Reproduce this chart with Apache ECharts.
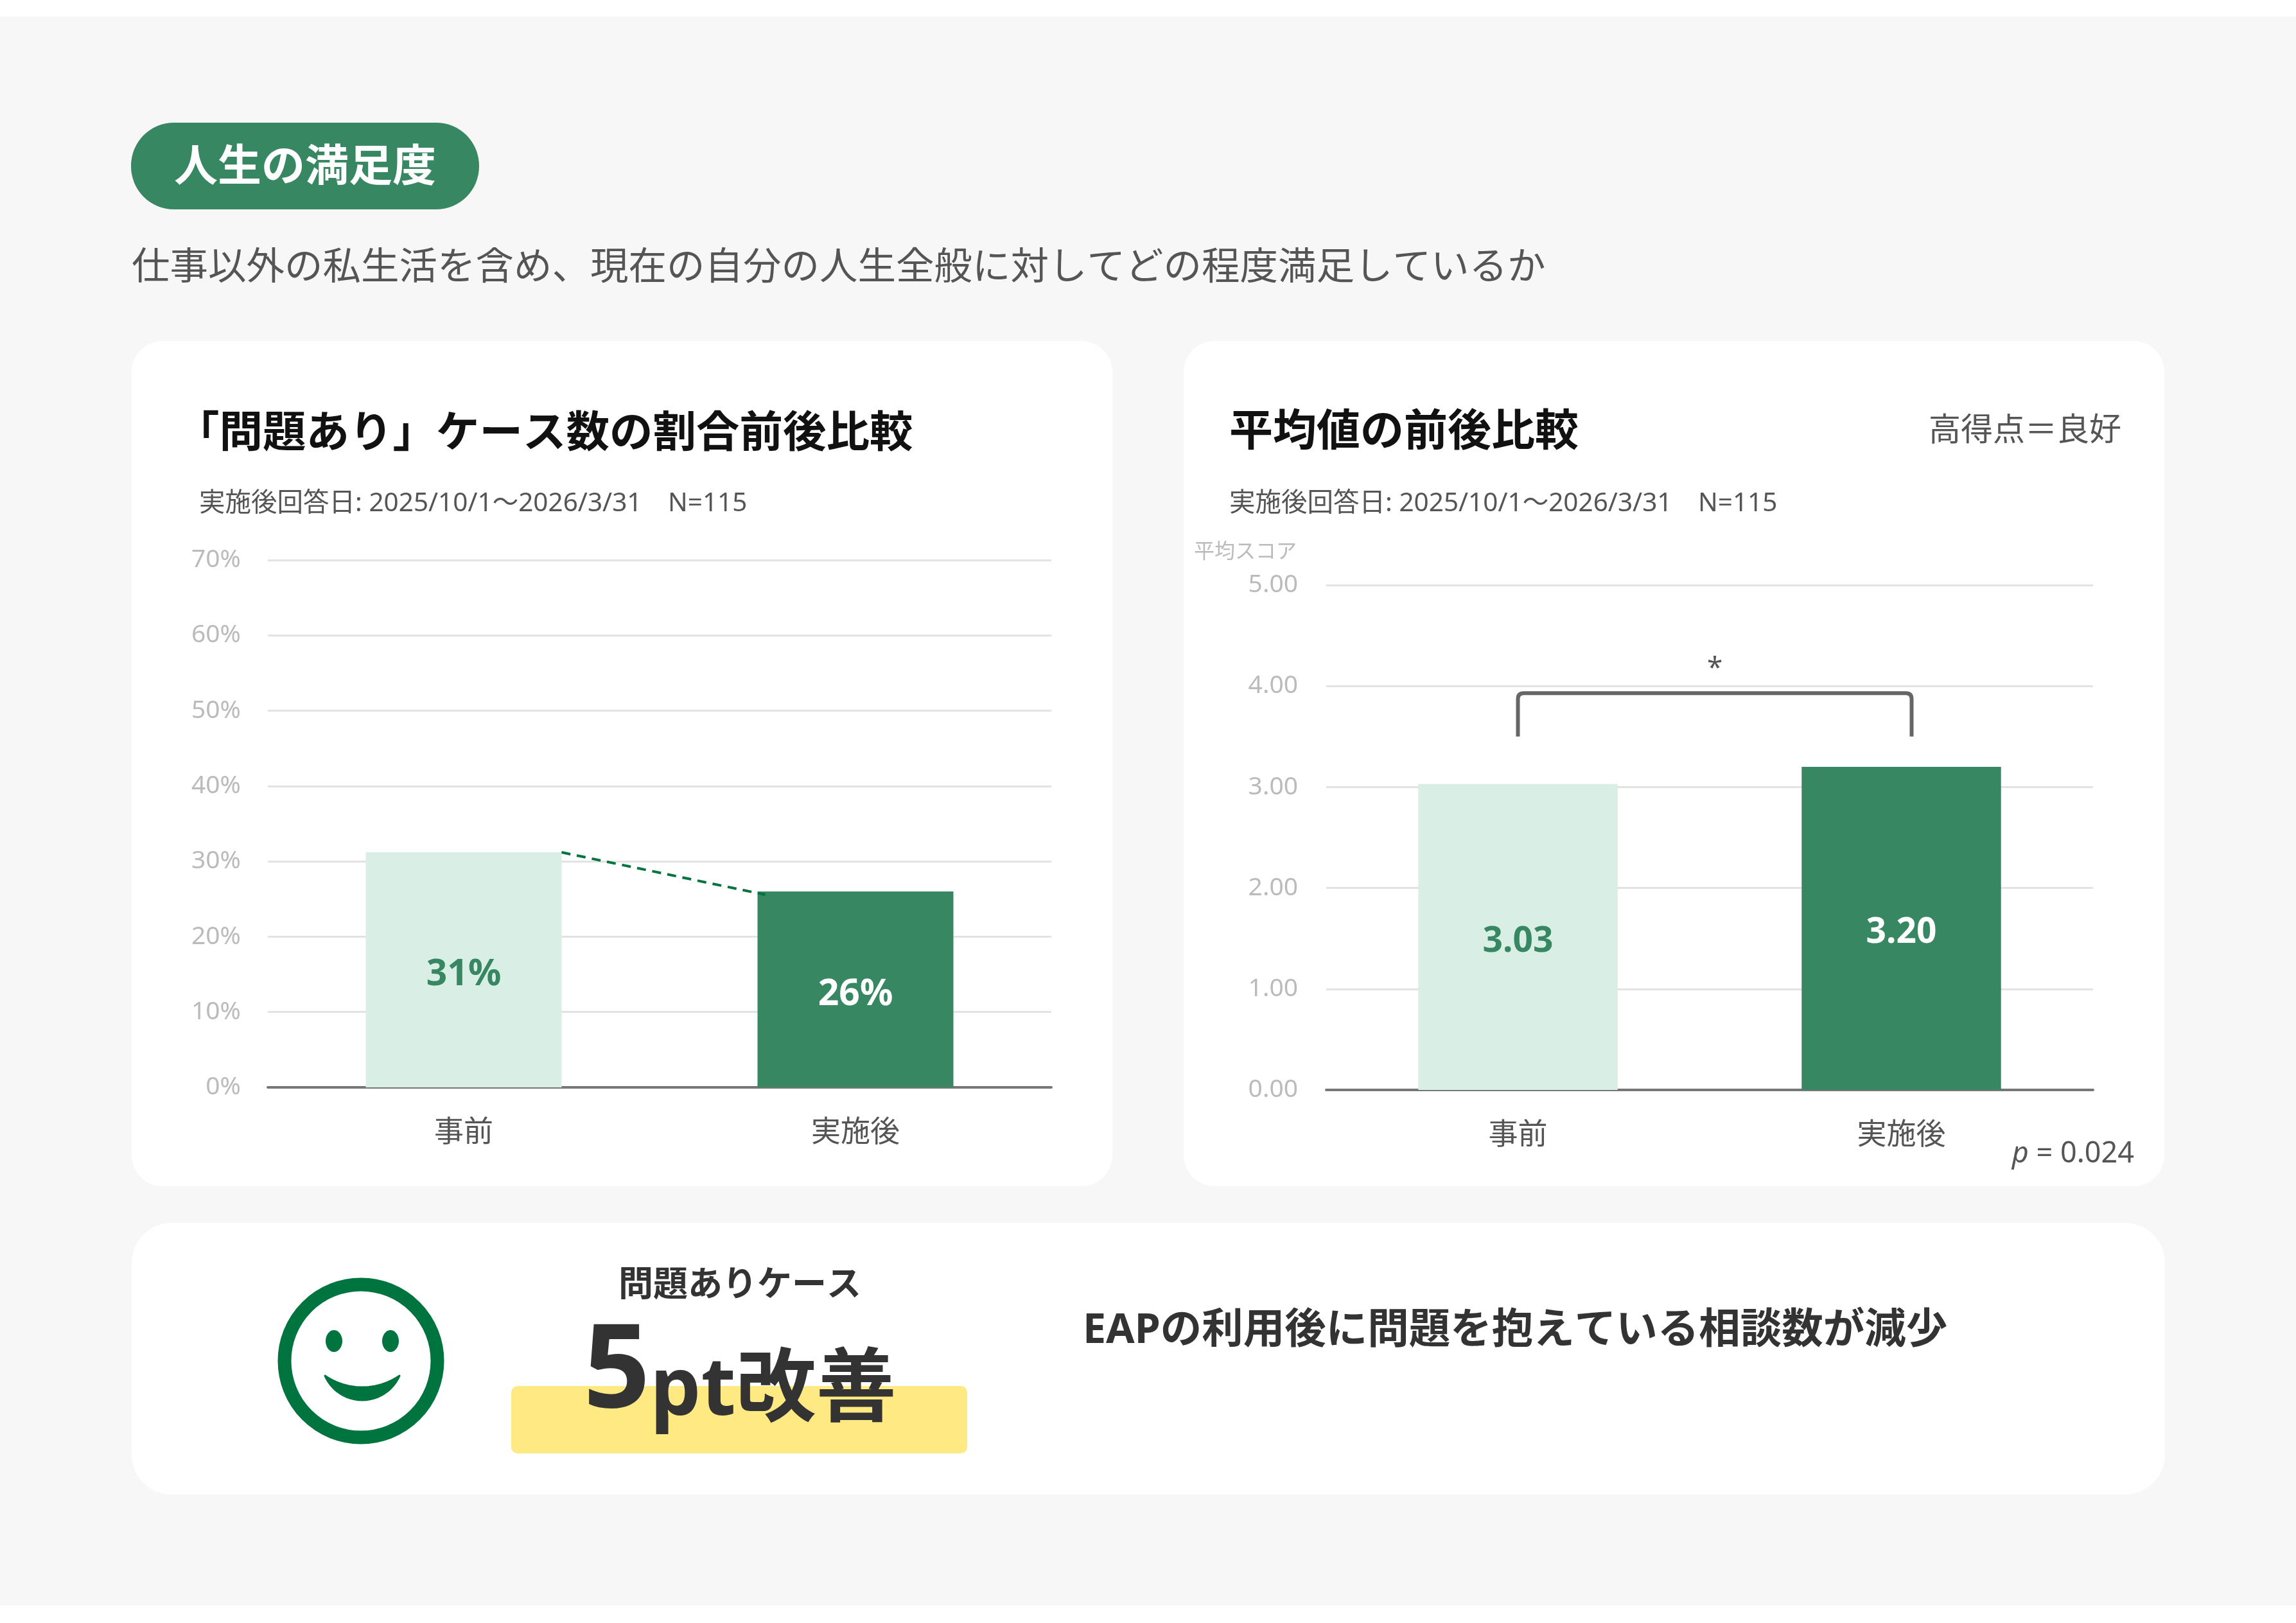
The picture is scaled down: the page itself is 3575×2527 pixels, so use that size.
<!DOCTYPE html>
<html lang="ja">
<head>
<meta charset="utf-8">
<title>人生の満足度</title>
<script src="https://cdn.jsdelivr.net/npm/echarts@6/dist/echarts.min.js"></script>
<style>
  html, body { margin: 0; padding: 0; background: #fff; }
  #main { width: 3575px; height: 2527px; }
</style>
</head>
<body>
<div id="main"></div>
<script>
// 値は図から読み取り
var categories = ['事前', '実施後'];
var problemRate = [31.2, 26.0];     // 「問題あり」ケースの割合 (%)
var rateAxis = [0, 70, 10];         // min, max, interval
var meanScore = [3.03, 3.20];       // 平均スコア
var scoreAxis = [0, 5, 1];
var sigMark = '*';
var pValue = '0.024';

// 有意差ブラケットの高さ（スコア軸上）
var bracketTop = 3.93;
var bracketLeg = 3.50;
var starLevel = 4.17;

var FONT = "'Noto Sans', 'Noto Sans CJK JP', sans-serif";
var GREEN = '#388763';
var LIGHT = '#d9efe5';
var barColors = [LIGHT, GREEN];
var barLabelColors = [GREEN, '#ffffff'];

var W = 3575, H = 2527;
var chart = echarts.init(document.getElementById('main'), null, { width: W, height: H });

function txt(x, y, text, size, color, opts) {
  opts = opts || {};
  return {
    type: 'text', x: x, y: y, z: 10, silent: true,
    style: {
      text: text, fill: color, fontSize: size, fontFamily: FONT,
      fontWeight: opts.bold ? 'bold' : 'normal',
      align: opts.align || 'left', verticalAlign: 'middle',
      rich: opts.rich
    }
  };
}

function card(x, y, w, h, r) {
  return { type: 'rect', z: -10, silent: true, shape: { x: x, y: y, width: w, height: h, r: r }, style: { fill: '#ffffff' } };
}

// 口元の三日月（外側の弧と内側の弧で囲む）
function smilePoints() {
  var pts = [];
  var n = 24, i, t;
  var left = 506, right = 622, top = 2142;
  var half = (right - left) / 2, cx = left + half;
  var outer = 38, inner = 18;
  var ro = (half * half + outer * outer) / (2 * outer);
  var ri = (half * half + inner * inner) / (2 * inner);
  var co = top + outer - ro, ci = top + inner - ri;
  var ao = Math.asin(half / ro), ai = Math.asin(half / ri);
  for (i = 0; i <= n; i++) {
    t = -ao + 2 * ao * i / n;
    pts.push([cx + ro * Math.sin(t), co + ro * Math.cos(t)]);
  }
  for (i = n; i >= 0; i--) {
    t = -ai + 2 * ai * i / n;
    pts.push([cx + ri * Math.sin(t), ci + ri * Math.cos(t)]);
  }
  return pts;
}

var graphics = [
  { type: 'rect', z: -20, silent: true, shape: { x: 0, y: 26, width: W, height: 2474 }, style: { fill: '#f7f7f7' } },
  { type: 'rect', z: -10, silent: true, shape: { x: 204, y: 191, width: 542, height: 135, r: 67 }, style: { fill: GREEN } },
  txt(475, 263, '人生の満足度', 68, '#ffffff', { bold: true, align: 'center' }),
  txt(205, 418, '仕事以外の私生活を含め、現在の自分の人生全般に対してどの程度満足しているか', 59.5, '#555555'),
  card(205, 531, 1527, 1316, 48),
  card(1843, 531, 1527, 1316, 48),
  card(205, 1904, 3166, 423, 62),
  txt(274, 677, '「問題あり」ケース数の割合前後比較', 67.5, '#111111', { bold: true }),
  txt(310, 784, '実施後回答日: 2025/10/1～2026/3/31　N=115', 40.5, '#555555'),
  txt(1914, 675, '平均値の前後比較', 68, '#111111', { bold: true }),
  txt(3303, 672, '高得点＝良好', 50, '#555555', { align: 'right' }),
  txt(1914, 784, '実施後回答日: 2025/10/1～2026/3/31　N=115', 40.5, '#555555'),
  txt(3323, 1797, '{i|p} = ' + pValue, 45, '#555555', {
    align: 'right',
    rich: { i: { fontStyle: 'italic', fontSize: 45, fontFamily: FONT, fill: '#555555' } }
  }),
  // にこちゃんマーク
  { type: 'circle', z: 10, silent: true, shape: { cx: 562, cy: 2119, r: 119 }, style: { fill: 'none', stroke: '#00743f', lineWidth: 21 } },
  { type: 'ellipse', z: 10, silent: true, shape: { cx: 520, cy: 2088, rx: 13, ry: 17 }, style: { fill: '#00743f' } },
  { type: 'ellipse', z: 10, silent: true, shape: { cx: 608, cy: 2088, rx: 13, ry: 17 }, style: { fill: '#00743f' } },
  { type: 'polygon', z: 10, silent: true, shape: { points: smilePoints() },
    style: { fill: '#00743f', stroke: '#00743f', lineWidth: 3, lineJoin: 'round' } },
  { type: 'rect', z: 5, silent: true, shape: { x: 796, y: 2158, width: 710, height: 105, r: 10 }, style: { fill: '#ffe983' } },
  txt(1152, 2003, '問題ありケース', 54, '#333333', { bold: true, align: 'center' }),
  txt(1152, 2139, '{a|5}{b|pt改善}', 125, '#333333', {
    bold: true, align: 'center',
    rich: {
      a: { fontSize: 182, lineHeight: 182, fontWeight: 'bold', fontFamily: FONT, fill: '#333333', verticalAlign: 'bottom' },
      b: { fontSize: 125, lineHeight: 140, fontWeight: 'bold', fontFamily: FONT, fill: '#333333', verticalAlign: 'bottom' }
    }
  }),
  txt(1686, 2073, 'EAPの利用後に問題を抱えている相談数が減少', 64.5, '#333333', { bold: true })
];

function catAxis(gi) {
  return {
    type: 'category', gridIndex: gi, data: categories,
    axisTick: { show: false },
    axisLine: { lineStyle: { color: '#777777', width: 4 } },
    axisLabel: { fontSize: 46, color: '#555555', margin: 48, fontFamily: FONT }
  };
}

function barData(values) {
  return values.map(function (v, i) {
    return { value: v, itemStyle: { color: barColors[i] }, label: { color: barLabelColors[i] } };
  });
}

chart.setOption({
  animation: false,
  backgroundColor: '#ffffff',
  graphic: graphics,
  grid: [
    { left: 417, right: W - 1637, top: 872, bottom: H - 1693 },
    { left: 2065, right: W - 3259, top: 911, bottom: H - 1697 }
  ],
  xAxis: [catAxis(0), catAxis(1)],
  yAxis: [
    {
      type: 'value', gridIndex: 0, min: rateAxis[0], max: rateAxis[1], interval: rateAxis[2],
      axisLine: { show: false }, axisTick: { show: false },
      axisLabel: { formatter: '{value}%', fontSize: 39, color: '#bbbbbb', margin: 42, fontFamily: FONT },
      splitLine: { lineStyle: { color: '#e3e3e3', width: 3 } }
    },
    {
      type: 'value', gridIndex: 1, min: scoreAxis[0], max: scoreAxis[1], interval: scoreAxis[2],
      name: '平均スコア', nameLocation: 'end', nameGap: 51,
      nameTextStyle: { fontSize: 32, color: '#bbbbbb', align: 'right', verticalAlign: 'middle', padding: [0, 46, 0, 0], fontFamily: FONT },
      axisLine: { show: false }, axisTick: { show: false },
      axisLabel: { formatter: function (v) { return v.toFixed(2); }, fontSize: 39, color: '#bbbbbb', margin: 44, fontFamily: FONT },
      splitLine: { lineStyle: { color: '#e3e3e3', width: 3 } }
    }
  ],
  series: [
    {
      type: 'bar', xAxisIndex: 0, yAxisIndex: 0, barWidth: '50%',
      data: barData(problemRate),
      label: {
        show: true, position: 'inside', offset: [0, 8], fontSize: 57, fontWeight: 'bold', fontFamily: FONT,
        formatter: function (p) { return Math.round(p.value) + '%'; }
      }
    },
    {
      // 事前→実施後 の破線
      type: 'custom', xAxisIndex: 0, yAxisIndex: 0, z: 5, silent: true,
      data: [[0, problemRate[0], 1, problemRate[1]]],
      renderItem: function (params, api) {
        var half = api.size([1, 0])[0] * 0.5 / 2;
        var a = api.coord([api.value(0), api.value(1)]);
        var b = api.coord([api.value(2), api.value(3)]);
        return {
          type: 'line',
          shape: { x1: a[0] + half, y1: a[1], x2: b[0] - half + 12, y2: b[1] + 5 },
          style: { stroke: '#00733f', lineWidth: 4, lineDash: [14, 10] }
        };
      }
    },
    {
      type: 'bar', xAxisIndex: 1, yAxisIndex: 1, barWidth: '52%',
      data: barData(meanScore),
      label: {
        show: true, position: 'inside', offset: [0, 7], fontSize: 55, fontWeight: 'bold', fontFamily: FONT,
        formatter: function (p) { return p.value.toFixed(2); }
      }
    },
    {
      // 有意差ブラケット
      type: 'custom', xAxisIndex: 1, yAxisIndex: 1, z: 5, silent: true,
      data: [[0, bracketTop]],
      renderItem: function (params, api) {
        var x0 = api.coord([0, bracketTop])[0];
        var x1 = api.coord([1, bracketTop])[0] + 16;
        var yt = api.coord([0, bracketTop])[1];
        var yb = api.coord([0, bracketLeg])[1];
        var ys = api.coord([0, starLevel])[1];
        var r = 9;
        var d = 'M' + x0 + ' ' + yb + ' L' + x0 + ' ' + (yt + r) +
          ' Q' + x0 + ' ' + yt + ' ' + (x0 + r) + ' ' + yt +
          ' L' + (x1 - r) + ' ' + yt +
          ' Q' + x1 + ' ' + yt + ' ' + x1 + ' ' + (yt + r) +
          ' L' + x1 + ' ' + yb;
        return {
          type: 'group',
          children: [
            { type: 'path', shape: { pathData: d }, style: { fill: 'none', stroke: '#666666', lineWidth: 6 } },
            { type: 'text', x: (x0 + x1) / 2, y: ys,
              style: { text: sigMark, fontSize: 44, fontFamily: FONT, fill: '#555555', align: 'center', verticalAlign: 'middle' } }
          ]
        };
      }
    }
  ]
});
</script>
</body>
</html>
